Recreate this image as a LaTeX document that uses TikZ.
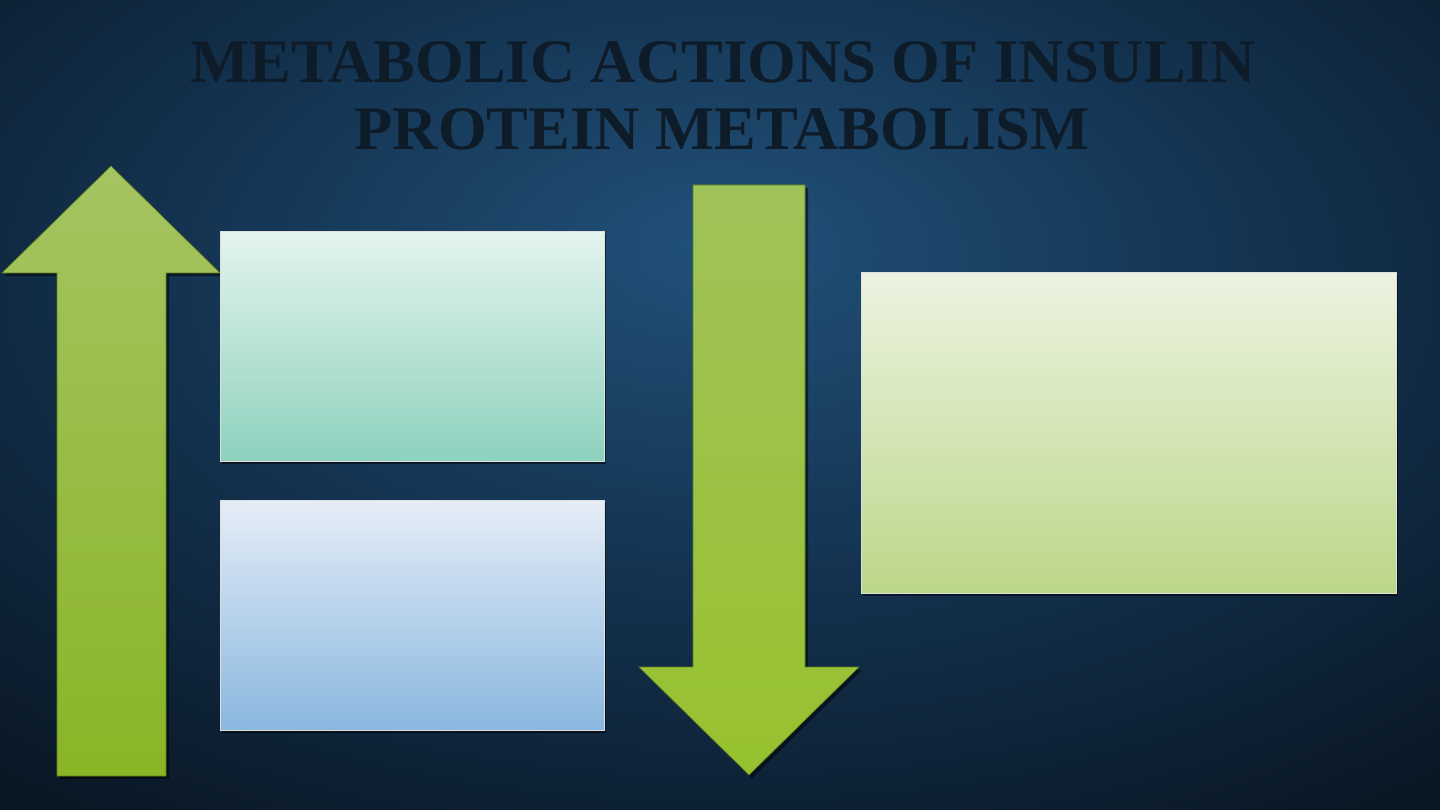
\documentclass[tikz,border=0pt]{standalone}
\usepackage{fontspec}
\setmainfont{Liberation Serif}
\usetikzlibrary{shadows}
\definecolor{bgin}{HTML}{215179}
\definecolor{bgmid}{HTML}{143452}
\definecolor{bgout}{HTML}{08121D}
\definecolor{titlecol}{HTML}{0E1B29}
\definecolor{arrtop}{HTML}{A4C462}
\definecolor{arrbot}{HTML}{89B526}
\definecolor{darrtop}{HTML}{A0C25A}
\definecolor{darrbot}{HTML}{97C22E}
\definecolor{boxatop}{HTML}{E4F4EF}
\definecolor{boxabot}{HTML}{8DD1BD}
\definecolor{boxbtop}{HTML}{E5EDF7}
\definecolor{boxbbot}{HTML}{89B7DF}
\definecolor{boxctop}{HTML}{ECF3E1}
\definecolor{boxcbot}{HTML}{BBD789}
\pgfdeclareradialshading{bgshade}{\pgfpoint{0bp}{10bp}}{color(0bp)=(bgin); color(18bp)=(bgmid); color(42bp)=(bgout); color(100bp)=(bgout)}
\tikzset{
  titletext/.style={font=\bfseries\fontsize{62}{66}\selectfont, text=titlecol, inner sep=0pt},
  panel/.style={draw=white!75!gray, line width=0.8pt, inner sep=0pt,
    drop shadow={shadow xshift=2pt, shadow yshift=-3pt, opacity=0.5, fill=black}},
  arrowshape/.style={draw=black!30!arrbot, line width=0.6pt,
    drop shadow={shadow xshift=3pt, shadow yshift=-3pt, opacity=0.5, fill=black}},
}
\begin{document}
\begin{tikzpicture}[x=1pt,y=-1pt]
\useasboundingbox (0,0) rectangle (1440,810);
\shade[shading=bgshade] (0,0) rectangle (1440,810);
% title
\node[titletext, anchor=base, xscale=1.01] (t1) at (723,83) {METABOLIC ACTIONS OF INSULIN};
\node[titletext, anchor=base, xscale=1.01] (t2) at (722,150) {PROTEIN METABOLISM};
% up arrow
\shade[arrowshape, top color=arrtop, bottom color=arrbot]
  (111,166) -- (220,273) -- (166,273) -- (166,776) -- (57,776) -- (57,273) -- (2,273) -- cycle;
% down arrow
\shade[arrowshape, top color=darrtop, bottom color=darrbot]
  (693,185) -- (805,185) -- (805,667) -- (859,667) -- (749,775) -- (639,667) -- (693,667) -- cycle;
% boxes
\node[panel, anchor=north west, minimum width=384pt, minimum height=230pt,
  top color=boxatop, bottom color=boxabot] (boxa) at (220,231) {};
\node[panel, anchor=north west, minimum width=384pt, minimum height=230pt,
  top color=boxbtop, bottom color=boxbbot] (boxb) at (220,500) {};
\node[panel, anchor=north west, minimum width=535pt, minimum height=321pt,
  top color=boxctop, bottom color=boxcbot] (boxc) at (861,272) {};
\end{tikzpicture}
\end{document}
